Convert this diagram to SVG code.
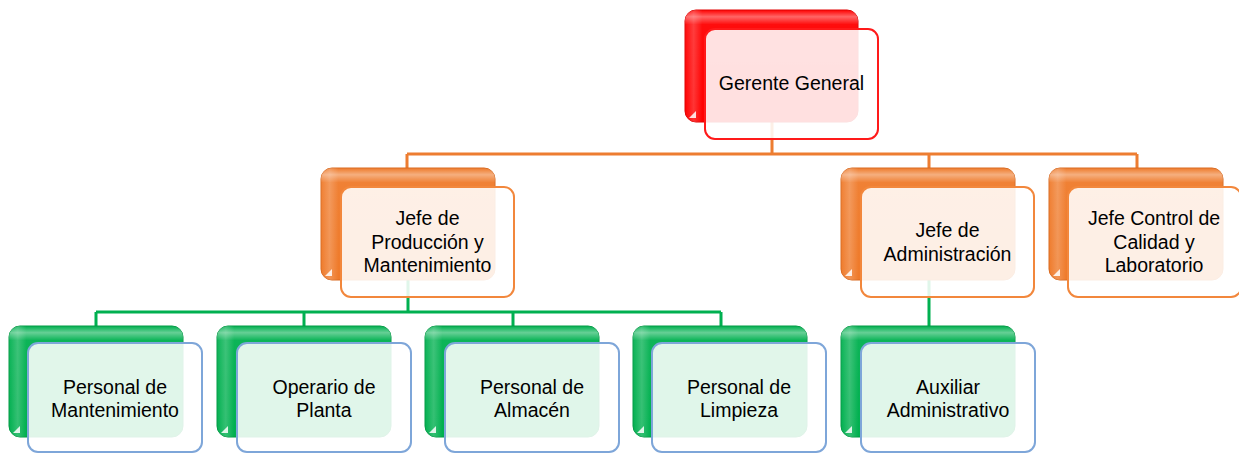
<svg xmlns="http://www.w3.org/2000/svg" width="1239" height="453" viewBox="0 0 1239 453">
<defs>
<linearGradient id="gloss" x1="0" y1="0" x2="0" y2="1">
<stop offset="0" stop-color="#fff" stop-opacity="0"/>
<stop offset="0.06" stop-color="#fff" stop-opacity="0.4"/>
<stop offset="0.13" stop-color="#fff" stop-opacity="0.05"/>
<stop offset="1" stop-color="#fff" stop-opacity="0"/>
</linearGradient>
<linearGradient id="side" x1="0" y1="0" x2="1" y2="0">
<stop offset="0" stop-color="#fff" stop-opacity="0"/>
<stop offset="0.05" stop-color="#fff" stop-opacity="0.2"/>
<stop offset="0.1" stop-color="#fff" stop-opacity="0"/>
<stop offset="1" stop-color="#fff" stop-opacity="0"/>
</linearGradient>
</defs>
<style>
text{font-family:"Liberation Sans",Arial,sans-serif;font-size:19.5px;fill:#000;text-anchor:middle}
.gl{fill:url(#gloss)}
.sd{fill:url(#side)}
.curl{fill:#fff;opacity:0.85}
.front{fill:#fff;fill-opacity:0.88;stroke-width:2}
.red .back{fill:#ff0000;stroke:#e00000;stroke-width:1}
.red .front{stroke:#ff1a1a}
.org .back{fill:#ef7a2a;stroke:#d96a20;stroke-width:1}
.org .front{stroke:#f2873c}
.grn .back{fill:#00b04f;stroke:#009a44;stroke-width:1}
.grn .front{stroke:#7ea6d9}
.lo{stroke:#ed7d31;stroke-width:3;fill:none}
.lg{stroke:#00b050;stroke-width:3;fill:none}
</style>
<g id="connectors">
<path class="lo" d="M772 122V154M407 154H1137M407 154V168M929 154V168M1137 154V168"/>
<path class="lg" d="M408 280V312M96 312H721M96 312V326M304 312V326M513 312V326M721 312V326M929 280V326"/>
</g>
<g id="gerente" class="red">
<rect class="back" x="685" y="10" width="173" height="112" rx="11"/>
<rect class="gl" x="685" y="10" width="173" height="112" rx="11"/>
<rect class="sd" x="685" y="10" width="173" height="112" rx="11"/>
<path class="curl" d="M689 118l7-7v7z"/>
<rect class="front" x="705" y="29" width="173" height="110" rx="10"/>
<text x="791.5" y="90">Gerente General</text>
</g>
<g id="jefe-produccion" class="org">
<rect class="back" x="321" y="168" width="174" height="112" rx="11"/>
<rect class="gl" x="321" y="168" width="174" height="112" rx="11"/>
<rect class="sd" x="321" y="168" width="174" height="112" rx="11"/>
<path class="curl" d="M325 276l7-7v7z"/>
<rect class="front" x="341" y="187" width="173" height="110" rx="10"/>
<text x="427.5" y="225">Jefe de</text>
<text x="427.5" y="248.5">Producción y</text>
<text x="427.5" y="272">Mantenimiento</text>
</g>
<g id="jefe-administracion" class="org">
<rect class="back" x="841" y="168" width="174" height="112" rx="11"/>
<rect class="gl" x="841" y="168" width="174" height="112" rx="11"/>
<rect class="sd" x="841" y="168" width="174" height="112" rx="11"/>
<path class="curl" d="M845 276l7-7v7z"/>
<rect class="front" x="861" y="187" width="173" height="110" rx="10"/>
<text x="947.5" y="237">Jefe de</text>
<text x="947.5" y="261">Administración</text>
</g>
<g id="jefe-calidad" class="org">
<rect class="back" x="1049" y="168" width="174" height="112" rx="11"/>
<rect class="gl" x="1049" y="168" width="174" height="112" rx="11"/>
<rect class="sd" x="1049" y="168" width="174" height="112" rx="11"/>
<path class="curl" d="M1053 276l7-7v7z"/>
<rect class="front" x="1068" y="187" width="173" height="110" rx="10"/>
<text x="1154" y="225">Jefe Control de</text>
<text x="1154" y="248.5">Calidad y</text>
<text x="1154" y="272">Laboratorio</text>
</g>
<g id="personal-mantenimiento" class="grn">
<rect class="back" x="9" y="326" width="174" height="111" rx="11"/>
<rect class="gl" x="9" y="326" width="174" height="111" rx="11"/>
<rect class="sd" x="9" y="326" width="174" height="111" rx="11"/>
<path class="curl" d="M13 433l7-7v7z"/>
<rect class="front" x="28" y="343" width="174" height="109" rx="10"/>
<text x="115" y="394">Personal de</text>
<text x="115" y="417">Mantenimiento</text>
</g>
<g id="operario-planta" class="grn">
<rect class="back" x="217" y="326" width="174" height="111" rx="11"/>
<rect class="gl" x="217" y="326" width="174" height="111" rx="11"/>
<rect class="sd" x="217" y="326" width="174" height="111" rx="11"/>
<path class="curl" d="M221 433l7-7v7z"/>
<rect class="front" x="237" y="343" width="174" height="109" rx="10"/>
<text x="324" y="394">Operario de</text>
<text x="324" y="417">Planta</text>
</g>
<g id="personal-almacen" class="grn">
<rect class="back" x="425" y="326" width="174" height="111" rx="11"/>
<rect class="gl" x="425" y="326" width="174" height="111" rx="11"/>
<rect class="sd" x="425" y="326" width="174" height="111" rx="11"/>
<path class="curl" d="M429 433l7-7v7z"/>
<rect class="front" x="445" y="343" width="174" height="109" rx="10"/>
<text x="532" y="394">Personal de</text>
<text x="532" y="417">Almacén</text>
</g>
<g id="personal-limpieza" class="grn">
<rect class="back" x="633" y="326" width="174" height="111" rx="11"/>
<rect class="gl" x="633" y="326" width="174" height="111" rx="11"/>
<rect class="sd" x="633" y="326" width="174" height="111" rx="11"/>
<path class="curl" d="M637 433l7-7v7z"/>
<rect class="front" x="652" y="343" width="174" height="109" rx="10"/>
<text x="739" y="394">Personal de</text>
<text x="739" y="417">Limpieza</text>
</g>
<g id="auxiliar-administrativo" class="grn">
<rect class="back" x="841" y="326" width="174" height="111" rx="11"/>
<rect class="gl" x="841" y="326" width="174" height="111" rx="11"/>
<rect class="sd" x="841" y="326" width="174" height="111" rx="11"/>
<path class="curl" d="M845 433l7-7v7z"/>
<rect class="front" x="861" y="343" width="174" height="109" rx="10"/>
<text x="948" y="394">Auxiliar</text>
<text x="948" y="417">Administrativo</text>
</g>
</svg>
